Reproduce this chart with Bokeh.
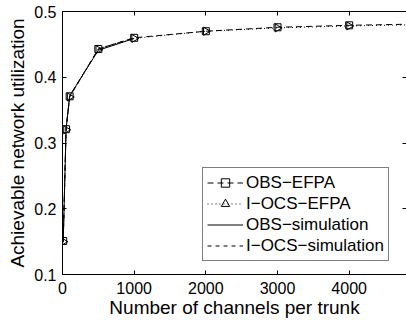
import math
from bokeh.plotting import figure
from bokeh.models import FixedTicker, LinearAxis, Range1d, Legend
from bokeh.embed import file_html
from bokeh.resources import INLINE

# ---- data ----
x_efpa = [10, 50, 100, 500, 1000, 2000, 3000, 4000, 5000]
obs_efpa = [0.151, 0.321, 0.371, 0.443, 0.460, 0.470, 0.476, 0.479, 0.481]
iocs_efpa = [0.150, 0.320, 0.370, 0.442, 0.459, 0.470, 0.475, 0.478, 0.480]
x_sim = [10, 50, 100, 500, 1000]
obs_sim = [0.150, 0.322, 0.372, 0.441, 0.459]
iocs_sim = [0.149, 0.321, 0.370, 0.443, 0.460]
x_ticks = [0, 1000, 2000, 3000, 4000]
y_ticks = [0.1, 0.2, 0.3, 0.4, 0.5]
labels = ["OBS\u2212EFPA", "I\u2212OCS\u2212EFPA", "OBS\u2212simulation", "I\u2212OCS\u2212simulation"]

FONT = "Liberation Sans"

p = figure(width=406, height=320, output_backend="svg", toolbar_location=None,
           x_range=Range1d(0, 4800), y_range=Range1d(0.1, 0.5),
           min_border_left=62, min_border_right=0, min_border_top=11, min_border_bottom=43)
p.outline_line_color = None
p.xgrid.visible = False
p.ygrid.visible = False

# lines
r1 = p.line(x_efpa, obs_efpa, line_color="black", line_width=1, line_dash="6 4")
r1m = p.scatter(x_efpa, obs_efpa, marker="square", size=7, line_color="black",
                fill_color=None, line_width=1)
r2 = p.line(x_efpa, iocs_efpa, line_color="black", line_width=1, line_dash="1 3")
r2m = p.scatter(x_efpa, iocs_efpa, marker="triangle", size=8, angle=-math.pi / 2,
                line_color="black", fill_color=None, line_width=1)
r3 = p.line(x_sim, obs_sim, line_color="black", line_width=1)
r4 = p.line(x_sim, iocs_sim, line_color="black", line_width=1, line_dash="4 4")

legend = Legend(items=[(labels[0], [r1, r1m]), (labels[1], [r2, r2m]),
                       (labels[2], [r3]), (labels[3], [r4])],
                location=(140, 13))
legend.label_text_font = FONT
legend.label_text_font_size = "17px"
legend.label_text_color = "black"
legend.border_line_color = "black"
legend.border_line_width = 1
legend.padding = 4
legend.spacing = 0
legend.margin = 0
legend.glyph_width = 36
legend.glyph_height = 21
legend.label_height = 21
legend.label_standoff = 3
legend.background_fill_alpha = 1
p.add_layout(legend, "center")

def style_axis(ax, show_labels=True):
    ax.axis_line_color = "black"
    ax.major_tick_line_color = "black"
    ax.major_tick_in = 4
    ax.major_tick_out = 0
    ax.minor_tick_line_color = None
    ax.major_label_text_font = FONT
    ax.major_label_text_font_size = "16px"
    ax.major_label_text_color = "black"
    ax.axis_label_text_font = FONT
    ax.axis_label_text_font_size = "19px"
    ax.axis_label_text_font_style = "normal"
    ax.axis_label_text_color = "black"
    if not show_labels:
        ax.major_label_overrides = {t: "" for t in ax.ticker.ticks}

xa = p.xaxis[0]
xa.ticker = FixedTicker(ticks=x_ticks)
xa.axis_label = "Number of channels per trunk"
style_axis(xa)
xa.major_label_standoff = 7
xa.axis_label_standoff = 0

ya = p.yaxis[0]
ya.ticker = FixedTicker(ticks=y_ticks)
ya.axis_label = "Achievable network utilization"
style_axis(ya)
ya.major_label_standoff = 6
ya.axis_label_standoff = 3

top = LinearAxis(ticker=FixedTicker(ticks=x_ticks))
style_axis(top, False)
top.major_label_standoff = 0
p.add_layout(top, "above")

right = LinearAxis(ticker=FixedTicker(ticks=y_ticks))
style_axis(right, False)
right.axis_line_color = None
right.major_label_standoff = 0
p.add_layout(right, "right")

open("out.html", "w").write(file_html(p, INLINE))
